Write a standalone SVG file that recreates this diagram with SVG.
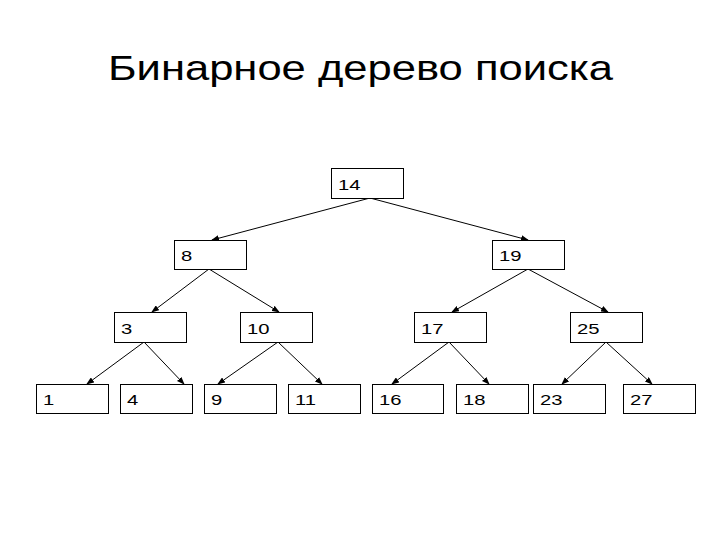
<svg xmlns="http://www.w3.org/2000/svg" width="720" height="540" viewBox="0 0 720 540">
<style>
.box{fill:#fff;stroke:#000;stroke-width:1}
.lbl{font-family:"Liberation Sans",Arial,sans-serif;font-size:15px;fill:#000}
.title{font-family:"Liberation Sans",Arial,sans-serif;font-size:35px;fill:#000}
.edge{stroke:#000;stroke-width:1;fill:none;marker-end:url(#arr)}
</style>
<defs>
<marker id="arr" markerUnits="userSpaceOnUse" markerWidth="8" markerHeight="6" refX="7" refY="3" orient="auto">
<path d="M0,0 L8,3 L0,6 z" fill="#000"/>
</marker>
</defs>
<rect width="720" height="540" fill="#fff"/>
<text class="title" x="108" y="80" textLength="505" lengthAdjust="spacingAndGlyphs">Бинарное дерево поиска</text>
<g id="connectors">
<line class="edge" x1="370" y1="198" x2="212" y2="240"/>
<line class="edge" x1="370" y1="198" x2="528" y2="240"/>
<line class="edge" x1="209" y1="269" x2="152" y2="312"/>
<line class="edge" x1="209" y1="269" x2="279" y2="312"/>
<line class="edge" x1="528" y1="269" x2="452" y2="312"/>
<line class="edge" x1="528" y1="269" x2="608" y2="312"/>
<line class="edge" x1="144" y1="342" x2="87" y2="384"/>
<line class="edge" x1="144" y1="342" x2="184" y2="384"/>
<line class="edge" x1="278" y1="342" x2="218" y2="384"/>
<line class="edge" x1="278" y1="342" x2="322" y2="384"/>
<line class="edge" x1="449" y1="342" x2="392" y2="384"/>
<line class="edge" x1="449" y1="342" x2="489" y2="384"/>
<line class="edge" x1="606" y1="342" x2="562" y2="384"/>
<line class="edge" x1="606" y1="342" x2="652" y2="384"/>
</g>
<g id="n14"><rect class="box" x="331.5" y="168.5" width="72" height="30"/><text class="lbl" transform="matrix(1.35 0 0 1 338 190)">14</text></g>
<g id="n8"><rect class="box" x="174.5" y="240.5" width="72" height="29"/><text class="lbl" transform="matrix(1.35 0 0 1 181 261)">8</text></g>
<g id="n19"><rect class="box" x="492.5" y="240.5" width="72" height="29"/><text class="lbl" transform="matrix(1.35 0 0 1 499 261)">19</text></g>
<g id="n3"><rect class="box" x="114.5" y="312.5" width="72" height="30"/><text class="lbl" transform="matrix(1.35 0 0 1 121 334)">3</text></g>
<g id="n10"><rect class="box" x="240.5" y="312.5" width="72" height="30"/><text class="lbl" transform="matrix(1.35 0 0 1 247 334)">10</text></g>
<g id="n17"><rect class="box" x="414.5" y="312.5" width="72" height="30"/><text class="lbl" transform="matrix(1.35 0 0 1 421 334)">17</text></g>
<g id="n25"><rect class="box" x="570.5" y="312.5" width="72" height="30"/><text class="lbl" transform="matrix(1.35 0 0 1 577 334)">25</text></g>
<g id="n1"><rect class="box" x="36.5" y="384.5" width="72" height="29"/><text class="lbl" transform="matrix(1.35 0 0 1 43 405)">1</text></g>
<g id="n4"><rect class="box" x="120.5" y="384.5" width="72" height="29"/><text class="lbl" transform="matrix(1.35 0 0 1 127 405)">4</text></g>
<g id="n9"><rect class="box" x="204.5" y="384.5" width="72" height="29"/><text class="lbl" transform="matrix(1.35 0 0 1 211 405)">9</text></g>
<g id="n11"><rect class="box" x="288.5" y="384.5" width="72" height="29"/><text class="lbl" transform="matrix(1.35 0 0 1 295 405)">11</text></g>
<g id="n16"><rect class="box" x="372.5" y="384.5" width="71" height="29"/><text class="lbl" transform="matrix(1.35 0 0 1 379 405)">16</text></g>
<g id="n18"><rect class="box" x="456.5" y="384.5" width="72" height="29"/><text class="lbl" transform="matrix(1.35 0 0 1 463 405)">18</text></g>
<g id="n23"><rect class="box" x="533.5" y="384.5" width="72" height="29"/><text class="lbl" transform="matrix(1.35 0 0 1 540 405)">23</text></g>
<g id="n27"><rect class="box" x="623.5" y="384.5" width="72" height="29"/><text class="lbl" transform="matrix(1.35 0 0 1 630 405)">27</text></g>
</svg>
